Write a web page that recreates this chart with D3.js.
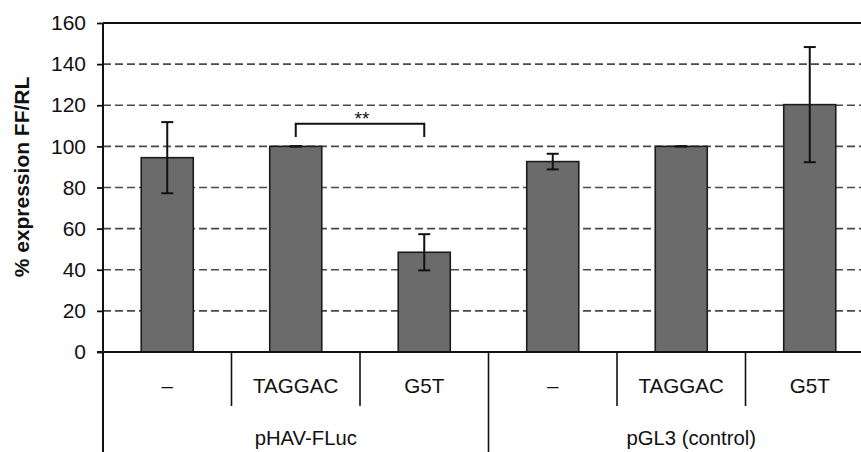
<!DOCTYPE html>
<html>
<head>
<meta charset="utf-8">
<script src="https://cdn.jsdelivr.net/npm/d3@7"></script>
<style>
  html, body { margin: 0; padding: 0; background: #fff; }
  svg { display: block; font-family: "Liberation Sans", Arial, sans-serif; }
</style>
</head>
<body>
<svg id="chart" width="861" height="452"></svg>
<script>
// Relative firefly / renilla luciferase expression
const groups = ["pHAV-FLuc", "pGL3 (control)"];
const categories = ["–", "TAGGAC", "G5T", "–", "TAGGAC", "G5T"];
const groupOf = [0, 0, 0, 1, 1, 1];
const values = [94.5, 100, 48.5, 92.6, 100, 120.3];
const errors = [17.3, 0, 8.8, 3.8, 0, 28];
const yTicks = [0, 20, 40, 60, 80, 100, 120, 140, 160];
// significance bracket between TAGGAC and G5T (pHAV-FLuc)
const sigPair = [1, 2];
const sigLevels = [104.6, 111];
const sigLabel = "**";

const W = 861, H = 452;
const plotLeft = 103, plotRight = 874, plotTop = 23, zeroY = 352;

const svg = d3.select("#chart");

const x = d3.scaleBand().domain(d3.range(categories.length)).range([plotLeft, plotRight]).padding(0);
const y = d3.scaleLinear().domain([0, 160]).range([zeroY, plotTop]);
const barW = x.bandwidth() * 0.405;
const cx = i => x(i) + x.bandwidth() / 2;

// horizontal grid (dashed), top line solid
svg.append("g").selectAll("line")
  .data(yTicks.filter(t => t > 0 && t < 160))
  .join("line")
  .attr("x1", plotLeft).attr("x2", W)
  .attr("y1", d => y(d)).attr("y2", d => y(d))
  .attr("stroke", "#4a4a4a").attr("stroke-width", 1.6)
  .attr("stroke-dasharray", "8,4");

svg.append("line")
  .attr("x1", plotLeft).attr("x2", W)
  .attr("y1", y(160)).attr("y2", y(160))
  .attr("stroke", "#111").attr("stroke-width", 1.8);

// y axis
const yAxis = d3.axisLeft(y).tickValues(yTicks).tickSize(6).tickPadding(11);
const gy = svg.append("g").attr("transform", `translate(${plotLeft},0)`).call(yAxis);
gy.select(".domain").remove();
gy.selectAll(".tick line").attr("stroke", "#111").attr("stroke-width", 1.8);
gy.selectAll(".tick text")
  .attr("font-size", 21).attr("fill", "#111")
  .attr("font-family", "'Liberation Sans', Arial, sans-serif");

// bars
svg.append("g").selectAll("rect")
  .data(values)
  .join("rect")
  .attr("x", (d, i) => cx(i) - barW / 2)
  .attr("width", barW)
  .attr("y", d => y(d))
  .attr("height", d => zeroY - y(d))
  .attr("fill", "#6b6b6b")
  .attr("stroke", "#1c1c1c").attr("stroke-width", 1.6);

// error bars
const eb = svg.append("g").attr("stroke", "#111").attr("stroke-width", 2);
values.forEach((v, i) => {
  const e = errors[i];
  const xc = cx(i);
  eb.append("line").attr("x1", xc).attr("x2", xc).attr("y1", y(v + e)).attr("y2", y(v - e));
  [v + e, v - e].forEach(t => {
    eb.append("line").attr("x1", xc - 6).attr("x2", xc + 6).attr("y1", y(t)).attr("y2", y(t));
  });
});

// y axis line (extends down through the category table)
svg.append("line")
  .attr("x1", plotLeft).attr("x2", plotLeft).attr("y1", plotTop).attr("y2", H)
  .attr("stroke", "#111").attr("stroke-width", 2);

// baseline
svg.append("line")
  .attr("x1", plotLeft - 6).attr("x2", W).attr("y1", zeroY).attr("y2", zeroY)
  .attr("stroke", "#111").attr("stroke-width", 2);

// category table separators
const tbl = svg.append("g").attr("stroke", "#111").attr("stroke-width", 1.6);
d3.range(1, categories.length).forEach(i => {
  const isGroupEdge = groupOf[i] !== groupOf[i - 1];
  tbl.append("line")
    .attr("x1", x(i)).attr("x2", x(i))
    .attr("y1", zeroY).attr("y2", isGroupEdge ? H : 406);
});

// category labels
svg.append("g").selectAll("text")
  .data(categories)
  .join("text")
  .attr("x", (d, i) => cx(i))
  .attr("y", 393)
  .attr("text-anchor", "middle")
  .attr("font-size", 20.6).attr("fill", "#111")
  .text(d => d);

// group labels
svg.append("g").selectAll("text")
  .data(groups)
  .join("text")
  .attr("x", (g, gi) => {
    const idx = d3.range(categories.length).filter(i => groupOf[i] === gi);
    return (x(idx[0]) + x(idx[idx.length - 1]) + x.bandwidth()) / 2 + 10;
  })
  .attr("y", 445)
  .attr("text-anchor", "middle")
  .attr("font-size", 20.3).attr("fill", "#111")
  .text(d => d);

// y axis title
svg.append("text")
  .attr("transform", `translate(29,177) rotate(-90)`)
  .attr("text-anchor", "middle")
  .attr("font-size", 21).attr("font-weight", "bold").attr("fill", "#111")
  .text("% expression FF/RL");

// significance bracket
const [a, b] = sigPair;
svg.append("path")
  .attr("d", `M${cx(a)},${y(sigLevels[0])}V${y(sigLevels[1])}H${cx(b)}V${y(sigLevels[0])}`)
  .attr("fill", "none").attr("stroke", "#111").attr("stroke-width", 2);
svg.append("text")
  .attr("x", (cx(a) + cx(b)) / 2 + 2)
  .attr("y", y(sigLevels[1]) + 1)
  .attr("text-anchor", "middle")
  .attr("font-size", 19).attr("fill", "#111")
  .text(sigLabel);
</script>
</body>
</html>
